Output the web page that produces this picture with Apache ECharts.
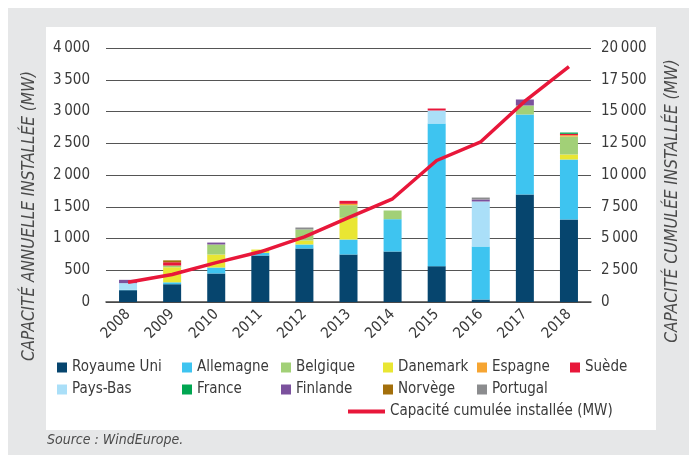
<!DOCTYPE html>
<html lang="fr">
<head>
    <meta charset="UTF-8">
    <title>Capacité éolienne en mer</title>
    <script type="text/javascript" src="https://cdn.jsdelivr.net/npm/echarts@6/dist/echarts.min.js"></script>
    <style>
        html, body { margin: 0; padding: 0; background: #fff; }
    </style>
</head>
<body>
    <div id="main" style="width: 689px; height: 455px"></div>
    <script type="text/javascript">
        // capacité annuelle installée (MW)
        var years = ['2008', '2009', '2010', '2011', '2012', '2013', '2014', '2015', '2016', '2017', '2018'];
        var royaumeUni = [186, 280, 449, 732, 843, 748, 795, 564, 39, 1693, 1299];
        var allemagne  = [6, 30, 94, 42, 63, 236, 509, 2247, 835, 1260, 945];
        var paysBas    = [105, 0, 0, 0, 0, 0, 0, 205, 709, 0, 0];
        var danemark   = [0, 237, 205, 52, 63, 342, 0, 0, 0, 0, 79];
        var belgique   = [0, 27, 158, 0, 173, 198, 137, 0, 0, 142, 283];
        var espagne    = [0, 0, 0, 0, 0, 22, 0, 0, 0, 0, 21];
        var suede      = [0, 52, 0, 0, 0, 47, 0, 31, 0, 0, 21];
        var france     = [0, 0, 0, 0, 0, 0, 0, 0, 0, 0, 21];
        var finlande   = [52, 0, 30, 0, 0, 0, 0, 0, 31, 94, 0];
        var norvege    = [0, 30, 0, 0, 0, 0, 0, 0, 0, 0, 0];
        var portugal   = [0, 0, 0, 0, 31, 0, 0, 0, 31, 0, 0];
        // capacité cumulée (MW)
        var cumul = [1560, 2165, 3100, 3953, 5134, 6650, 8126, 11142, 12614, 15811, 18543];

        var leftTicks = [0, 500, 1000, 1500, 2000, 2500, 3000, 3500, 4000];
        var rightTicks = [0, 2500, 5000, 7500, 10000, 12500, 15000, 17500, 20000];

        var FONT = "'Liberation Sans Narrow', 'DejaVu Sans Condensed', 'Roboto', sans-serif";
        var TXT = '#3a3a3a';

        var stacks = [
            {name: 'Royaume Uni', data: royaumeUni, color: '#06456e'},
            {name: 'Allemagne', data: allemagne, color: '#3ec4f0'},
            {name: 'Pays-Bas', data: paysBas, color: '#aadff8'},
            {name: 'Danemark', data: danemark, color: '#e9e633'},
            {name: 'Belgique', data: belgique, color: '#a2d077'},
            {name: 'Espagne', data: espagne, color: '#f6a532'},
            {name: 'Suède', data: suede, color: '#e8173a'},
            {name: 'France', data: france, color: '#00a651'},
            {name: 'Finlande', data: finlande, color: '#7b519d'},
            {name: 'Norvège', data: norvege, color: '#a36f0b'},
            {name: 'Portugal', data: portugal, color: '#8b8c8e'}
        ];
        var lineName = 'Capacité cumulée installée (MW)';

        // legend grid: [name, left, top]
        var legendCells = [
            ['Royaume Uni', 57, 360], ['Allemagne', 182, 360], ['Belgique', 281, 360],
            ['Danemark', 383, 360], ['Espagne', 477, 360], ['Suède', 570, 360],
            ['Pays-Bas', 57, 382], ['France', 182, 382], ['Finlande', 281, 382],
            ['Norvège', 383, 382], ['Portugal', 477, 382]
        ];

        function fmt(v) {
            var s = String(v);
            if (s.length > 3) s = s.slice(0, s.length - 3) + '\u2009' + s.slice(s.length - 3);
            return s;
        }

        var legends = legendCells.map(function (c) {
            return {
                data: [c[0]], left: c[1], top: c[2], padding: 0,
                icon: 'rect', itemWidth: 10, itemHeight: 10,
                textStyle: {fontFamily: FONT, fontSize: 15, color: TXT}
            };
        });
        legends.push({
            data: [lineName], left: 348, top: 404, padding: 0,
            icon: 'rect', itemWidth: 37, itemHeight: 4,
            textStyle: {fontFamily: FONT, fontSize: 15, color: TXT}
        });

        var series = stacks.map(function (s) {
            return {
                name: s.name, type: 'bar', stack: 'annuel', barWidth: 18,
                itemStyle: {color: s.color}, data: s.data
            };
        });
        series.push({
            name: lineName, type: 'line', yAxisIndex: 1, z: 5,
            symbol: 'none', lineStyle: {color: '#e8173a', width: 3.5},
            itemStyle: {color: '#e8173a'}, data: cumul
        });

        var myChart = echarts.init(document.getElementById('main'));
        var option = {
            backgroundColor: '#fff',
            animation: false,
            graphic: [
                {type: 'rect', z: -10, silent: true, shape: {x: 8, y: 8, width: 681, height: 447}, style: {fill: '#e6e7e8'}},
                {type: 'rect', z: -9, silent: true, shape: {x: 46, y: 27, width: 610, height: 403}, style: {fill: '#fff'}},
                {type: 'text', x: 30, y: 216, rotation: Math.PI / 2, silent: true,
                    style: {text: 'CAPACITÉ ANNUELLE INSTALLÉE (MW)', fontFamily: FONT, fontSize: 17, fontStyle: 'italic',
                        fill: '#4a4a4a', align: 'center', verticalAlign: 'middle'}},
                {type: 'text', x: 673, y: 201, rotation: Math.PI / 2, silent: true,
                    style: {text: 'CAPACITÉ CUMULÉE INSTALLÉE (MW)', fontFamily: FONT, fontSize: 17, fontStyle: 'italic',
                        fill: '#4a4a4a', align: 'center', verticalAlign: 'middle'}},
                {type: 'text', x: 47, y: 440, silent: true,
                    style: {text: 'Source : WindEurope.', fontFamily: FONT, fontSize: 14, fontStyle: 'italic',
                        fill: '#4a4a4a', align: 'left', verticalAlign: 'middle'}}
            ],
            legend: legends,
            grid: {left: 106, right: 98, top: 48, bottom: 153},
            xAxis: {
                type: 'category', data: years,
                axisTick: {show: false},
                axisLine: {lineStyle: {color: '#444', width: 1.5}},
                axisLabel: {rotate: 45, margin: 10, fontFamily: FONT, fontSize: 15, color: TXT}
            },
            yAxis: [{
                type: 'value', min: leftTicks[0], max: leftTicks[leftTicks.length - 1], interval: 500,
                axisLine: {show: false}, axisTick: {show: false},
                splitLine: {lineStyle: {color: '#555', width: 1.2}},
                axisLabel: {margin: 16, fontFamily: FONT, fontSize: 15, color: TXT, formatter: fmt}
            }, {
                type: 'value', min: rightTicks[0], max: rightTicks[rightTicks.length - 1], interval: 2500,
                axisLine: {show: false}, axisTick: {show: false}, splitLine: {show: false},
                axisLabel: {margin: 10, fontFamily: FONT, fontSize: 15, color: TXT, formatter: fmt}
            }],
            series: series
        };
        myChart.setOption(option);
    </script>
</body>
</html>
